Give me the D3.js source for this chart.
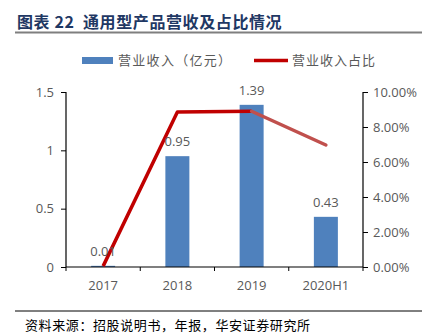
<!DOCTYPE html>
<html><head><meta charset="utf-8">
<script src="https://cdn.jsdelivr.net/npm/d3@7"></script>
<style>body{margin:0;background:#fff}svg{display:block}</style>
</head><body>
<svg id="c" width="422" height="336"></svg>
<script>
const categories = ["2017","2018","2019","2020H1"];
const revenue = [0.01, 0.95, 1.39, 0.43];
const share = [0.0005, 0.0886, 0.0890, 0.0697];
const leftTicks = [0, 0.5, 1, 1.5];
const rightTicks = [0, 0.02, 0.04, 0.06, 0.08, 0.10];
const title = "图表 22  通用型产品营收及占比情况";
const source = "资料来源：招股说明书，年报，华安证券研究所";
const legendLabels = ["营业收入（亿元）", "营业收入占比"];

const svg = d3.select("#c");
const font = "'Noto Sans CJK SC', 'Noto Sans', sans-serif";
const grey = "#595959";
const L = 66, R = 363, T = 92, B = 267;

// title
svg.append("text").attr("x", 17).attr("y", 28).attr("font-family", font)
  .attr("font-size", 16).attr("font-weight", "bold").attr("fill", "#1F3864")
  .attr("letter-spacing", 0.6).attr("xml:space","preserve").text(title);
svg.append("line").attr("x1", 15).attr("x2", 422).attr("y1", 32.5).attr("y2", 32.5)
  .attr("stroke", "#7f7f7f").attr("stroke-width", 2);

const x = d3.scaleBand().domain(categories).range([L, R]);
const y = d3.scaleLinear().domain([0, 1.5]).range([B, T]);
const y2 = d3.scaleLinear().domain([0, 0.10]).range([B, T]);
const barW = 24;

// bars
svg.append("g").selectAll("rect").data(revenue).join("rect")
  .attr("x", (d, i) => x(categories[i]) + x.bandwidth()/2 - barW/2)
  .attr("width", barW)
  .attr("y", d => y(d))
  .attr("height", d => B - y(d))
  .attr("fill", "#4F81BD");

// axes
const axL = svg.append("g").attr("transform", `translate(${L},0)`)
  .call(d3.axisLeft(y).tickValues(leftTicks).tickFormat(d3.format("")).tickSize(5).tickPadding(7));
const axR = svg.append("g").attr("transform", `translate(${R},0)`)
  .call(d3.axisRight(y2).tickValues(rightTicks).tickFormat(d3.format(".2%")).tickSize(5).tickPadding(5));
const axB = svg.append("g").attr("transform", `translate(0,${B})`)
  .call(d3.axisBottom(x).tickSize(0).tickPadding(14));
// bottom boundary ticks
svg.append("g").selectAll("line").data(d3.range(categories.length + 1)).join("line")
  .attr("x1", i => L + i * x.step()).attr("x2", i => L + i * x.step())
  .attr("y1", B).attr("y2", B + 4).attr("stroke", "#000").attr("stroke-width", 1);

[axL, axR, axB].forEach(a => {
  a.selectAll("path").attr("stroke", "#000").attr("stroke-width", 1.2);
  a.selectAll("line").attr("stroke", "#000");
  a.selectAll("text").attr("font-family", "'Open Sans', 'Noto Sans', sans-serif")
    .attr("font-size", 13).attr("fill", grey);
});
axL.select("path").attr("d", `M0,${T}V${B}`);
axR.select("path").attr("d", `M0,${T}V${B}`);
axB.select("path").attr("d", `M${L},0H${R}`);

// line
const lx = (i) => x(categories[i]) + x.bandwidth()/2;
const line = d3.line().x(d => lx(d.i)).y(d => y2(d.v));
const pts = share.map((v, i) => ({v, i}));
svg.append("path").attr("d", line(pts.slice(0, 3))).attr("fill", "none")
  .attr("stroke", "#C00000").attr("stroke-width", 3.5).attr("stroke-linejoin", "round");
svg.append("path").attr("d", line(pts.slice(2))).attr("fill", "none")
  .attr("stroke", "#C0504D").attr("stroke-width", 3.5).attr("stroke-linecap", "round");

// labels
svg.append("g").selectAll("text").data(revenue).join("text")
  .attr("x", (d, i) => lx(i)).attr("y", d => y(d) - 10)
  .attr("text-anchor", "middle").attr("font-family", "'Open Sans', 'Noto Sans', sans-serif")
  .attr("font-size", 13).attr("fill", grey).text(d => d.toFixed(2));

// legend
const lg = svg.append("g").attr("font-family", font).attr("font-size", 13).attr("fill", grey);
lg.append("rect").attr("x", 82).attr("y", 57).attr("width", 31).attr("height", 7).attr("fill", "#4F81BD");
lg.append("text").attr("x", 118).attr("y", 65).attr("letter-spacing", 1.3).text(legendLabels[0]);
lg.append("line").attr("x1", 254).attr("x2", 288).attr("y1", 60.5).attr("y2", 60.5)
  .attr("stroke", "#C00000").attr("stroke-width", 3.5);
lg.append("text").attr("x", 292).attr("y", 65).attr("letter-spacing", 1).text(legendLabels[1]);

// footer
svg.append("line").attr("x1", 15).attr("x2", 422).attr("y1", 311).attr("y2", 311)
  .attr("stroke", "#000").attr("stroke-width", 1);
svg.append("text").attr("x", 25).attr("y", 330).attr("font-family", font)
  .attr("font-size", 13).attr("fill", "#000").attr("letter-spacing", 0.6).text(source);
</script>
</body></html>
